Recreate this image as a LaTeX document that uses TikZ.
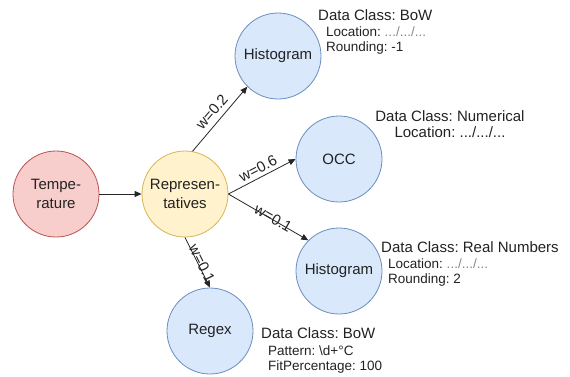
\documentclass[tikz,border=0pt]{standalone}
\usepackage{fontspec}
\setmainfont{Liberation Sans}
\usetikzlibrary{arrows.meta}
\definecolor{redfill}{HTML}{F8CECC}
\definecolor{redline}{HTML}{B85450}
\definecolor{yelfill}{HTML}{FFF2CC}
\definecolor{yelline}{HTML}{D6B656}
\definecolor{bluefill}{HTML}{DAE8FC}
\definecolor{blueline}{HTML}{6C8EBF}
\definecolor{txt}{HTML}{222222}
\definecolor{dots}{HTML}{888888}
\tikzset{
  circ/.style={circle, minimum size=86pt, inner sep=0pt, line width=0.8pt, align=center,
    font=\fontsize{15}{19}\selectfont, text=txt},
  redc/.style={circ, draw=redline, fill=redfill},
  yelc/.style={circ, draw=yelline, fill=yelfill},
  bluec/.style={circ, draw=blueline, fill=bluefill},
  conn/.style={line width=0.8pt, draw=black!85, -{Triangle[length=7pt,width=6pt]}},
  wlab/.style={font=\fontsize{15}{18}\selectfont, text=txt, sloped, midway, inner sep=1pt},
  bigt/.style={font=\fontsize{15}{18}\selectfont, text=txt, inner sep=0pt},
  smt/.style={font=\fontsize{13.5}{16}\selectfont, text=txt, inner sep=0pt, anchor=west}
}
\begin{document}
\frenchspacing
\begin{tikzpicture}[x=1pt,y=-1pt]
\useasboundingbox (0,0) rectangle (570,376);
\node[redc] (temp) at (56,194) {Tempe-\\rature};
\node[yelc] (rep) at (185,194) {Represen-\\tatives};
\node[bluec] (ht) at (278,56) {Histogram};
\node[bluec] (occ) at (339,159) {OCC};
\node[bluec] (hb) at (339,271) {Histogram};
\node[bluec] (rx) at (210,331) {Regex};

\draw[conn] (temp) -- (rep);
\draw[conn] (rep.80) -- node[wlab, above=4pt] {w=0.2} (ht.225);
\draw[conn] (rep.east) -- node[wlab, above=2pt] {w=0.6} (occ.west);
\draw[conn] (rep.east) -- node[wlab, above=-5pt, pos=0.55] {w=0.1} (hb.135);
\draw[conn] (rep.south) -- node[wlab, above=-3pt, pos=0.55] {w=0.1} (rx.north);

% top histogram
\node[bigt, anchor=west] (t1a) at (318,15) {Data Class: BoW};
\node[smt] (t1b) at (326,32) {Location: \textcolor{dots}{.../.../...}};
\node[smt] (t1c) at (326,48) {Rounding: -1};
% OCC
\node[bigt] (t2a) at (450,116) {Data Class: Numerical};
\node[bigt] (t2b) at (450,132) {Location: .../.../...};
% bottom histogram
\node[bigt, anchor=west] (t3a) at (381,247) {Data Class: Real Numbers};
\node[smt] (t3b) at (388,264) {Location: \textcolor{dots}{.../.../...}};
\node[smt] (t3c) at (388,280) {Rounding: 2};
% regex
\node[bigt, anchor=west] (t4a) at (261,333) {Data Class: BoW};
\node[smt] (t4b) at (268,351) {Pattern: \textbackslash d+°C};
\node[smt] (t4c) at (268,367) {FitPercentage: 100};
\end{tikzpicture}
\end{document}
